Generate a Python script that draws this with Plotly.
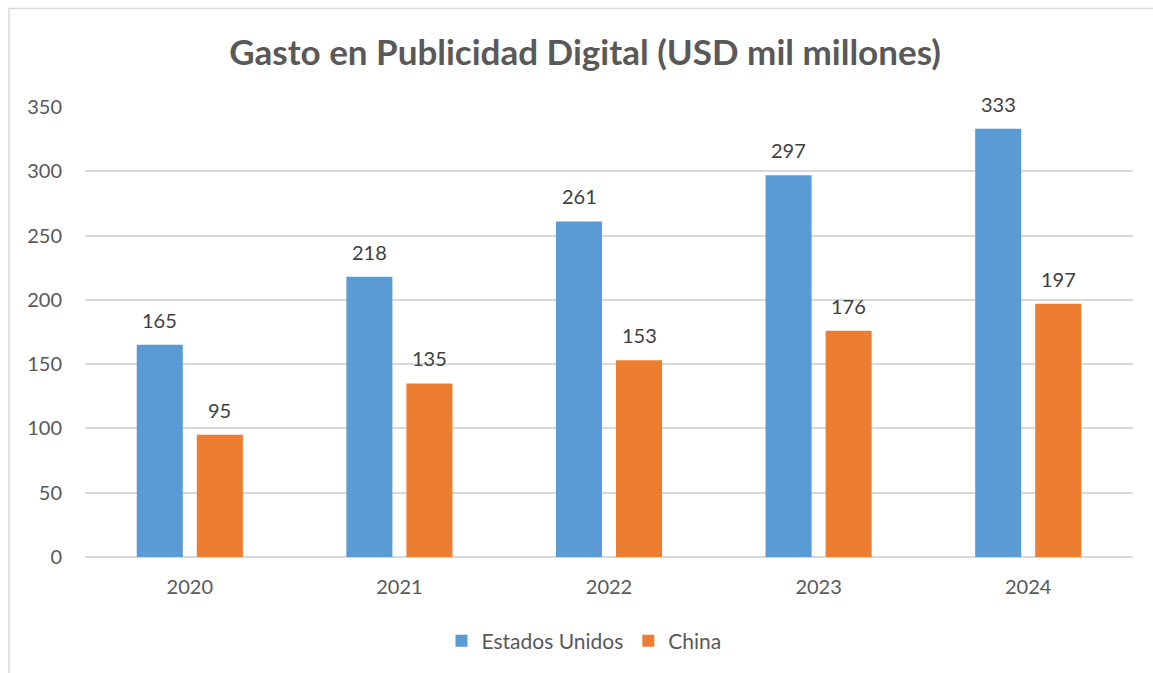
import plotly.graph_objects as go

# Digital advertising spend, billions of USD
years = ["2020", "2021", "2022", "2023", "2024"]
estados_unidos = [165, 218, 261, 297, 333]
china = [95, 135, 153, 176, 197]
y_ticks = [0, 50, 100, 150, 200, 250, 300, 350]

series = [
    ("Estados Unidos", estados_unidos, "#5B9BD5", -30),
    ("China", china, "#ED7D31", 30),
]

FONT = "Lato, 'Open Sans', sans-serif"
W, H = 1153, 673
L, R, T, B = 85, 20, 107, 116
plot_w = W - L - R
plot_h = H - T - B

fig = go.Figure()
annotations = []
for name, values, color, dx in series:
    fig.add_trace(go.Bar(
        x=years, y=values, name=name,
        marker=dict(color=color, line=dict(width=0)),
        hoverinfo="x+y+name",
    ))
    # value labels above each bar (category index positions)
    for i, v in enumerate(values):
        annotations.append(dict(
            x=i, y=v, xref="x", yref="y", text=str(v), showarrow=False,
            xanchor="center", yanchor="bottom", xshift=dx, yshift=11,
            font=dict(family=FONT, size=20, color="#404040"),
        ))

# outer chart frame (left and top edges visible)
fig.add_shape(
    type="rect", xref="paper", yref="paper",
    x0=(9 - L) / plot_w, x1=1.2,
    y0=-0.6, y1=1 + (T - 8.5) / plot_h,
    line=dict(color="#D9D9D9", width=1.5), fillcolor="rgba(0,0,0,0)", layer="below",
)

fig.update_layout(
    width=W, height=H,
    margin=dict(l=L, r=R, t=T, b=B),
    paper_bgcolor="white", plot_bgcolor="white",
    barmode="group", bargap=0.427, bargroupgap=0.233,
    title=dict(
        text="<b>Gasto en Publicidad Digital (USD mil millones)</b>",
        x=585 / W, xanchor="center", xref="container",
        y=1 - 53 / H, yanchor="middle", yref="container",
        font=dict(family=FONT, size=35, color="#595959"),
    ),
    font=dict(family=FONT, color="#595959"),
    xaxis=dict(
        type="category", categoryorder="array", categoryarray=years,
        range=[-0.5, len(years) - 0.5],
        showgrid=False, showline=False, zeroline=False, ticks="",
        tickfont=dict(family=FONT, size=20, color="#595959"),
        ticklabelstandoff=16,
    ),
    yaxis=dict(
        range=[0, 350], tickvals=y_ticks, ticktext=[str(t) for t in y_ticks],
        showgrid=True, gridcolor="#D9D9D9", gridwidth=1.5,
        zeroline=True, zerolinecolor="#D9D9D9", zerolinewidth=1.5,
        showline=False, ticks="",
        tickfont=dict(family=FONT, size=20, color="#595959"),
        ticklabelstandoff=22,
    ),
    legend=dict(
        orientation="h", x=(584 - L) / plot_w, xanchor="center",
        y=-(641 - (H - B)) / plot_h, yanchor="middle",
        font=dict(family=FONT, size=21, color="#595959"),
        itemwidth=30, traceorder="normal",
    ),
    annotations=annotations,
    showlegend=True,
)

fig.write_html("out.html")
